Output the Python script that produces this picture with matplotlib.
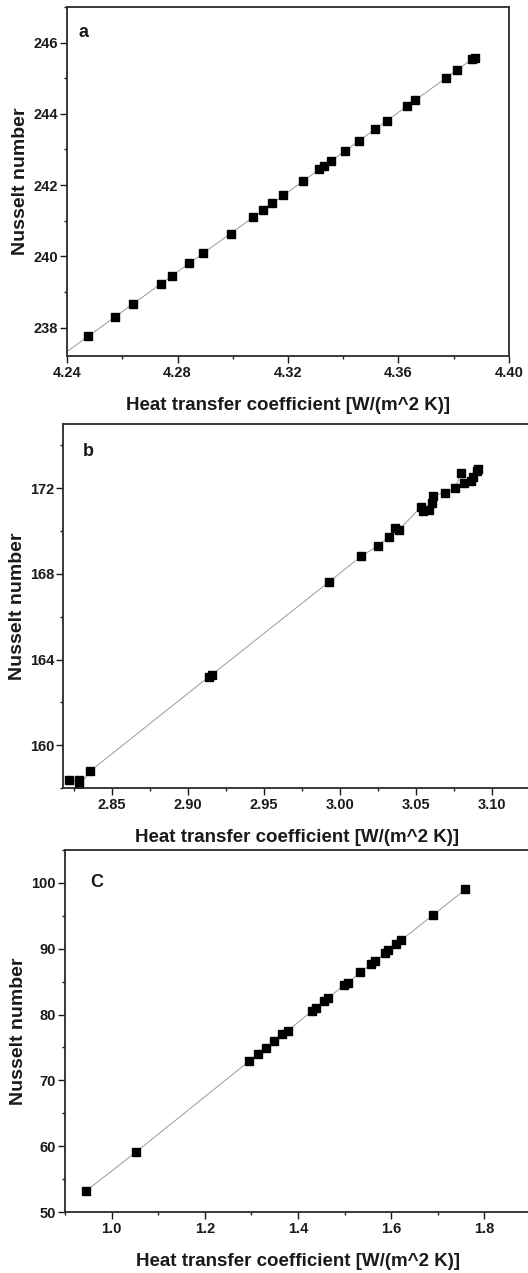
import numpy as np
import matplotlib
matplotlib.use("Agg")
import matplotlib.pyplot as plt
from matplotlib.ticker import MultipleLocator, FormatStrFormatter

plt.rcParams['font.family'] = ['Liberation Sans', 'DejaVu Sans']
plt.rcParams['font.weight'] = 'bold'

# ---- panel a ----
h_a = [4.2475, 4.2574, 4.2639, 4.2739, 4.2780, 4.2843, 4.2893, 4.2993, 4.3073,
       4.3108, 4.3143, 4.3183, 4.3255, 4.3312, 4.3330, 4.3357, 4.3406, 4.3458,
       4.3515, 4.3558, 4.3631, 4.3661, 4.3773, 4.3811, 4.3866, 4.3876]
nu_a = [237.75, 238.29, 238.66, 239.22, 239.45, 239.82, 240.08, 240.64, 241.10,
        241.30, 241.50, 241.71, 242.11, 242.44, 242.53, 242.68, 242.95, 243.25,
        243.57, 243.81, 244.22, 244.39, 245.01, 245.22, 245.54, 245.58]

# ---- panel b ----
h_b = [2.8220, 2.8280, 2.8280, 2.8355, 2.9136, 2.9158, 2.9925, 3.0140, 3.0250,
       3.0324, 3.0358, 3.0385, 3.0530, 3.0545, 3.0583, 3.0605, 3.0610, 3.0689,
       3.0755, 3.0794, 3.0816, 3.0860, 3.0873, 3.0899, 3.0908]
nu_b = [158.35, 158.35, 158.05, 158.78, 163.19, 163.30, 167.62, 168.83, 169.32,
        169.74, 170.13, 170.04, 171.12, 170.92, 170.99, 171.30, 171.65, 171.80,
        172.00, 172.70, 172.23, 172.36, 172.54, 172.79, 172.89]

# ---- panel c ----
h_c = [0.9449, 1.0522, 1.2955, 1.3140, 1.3320, 1.3490, 1.3660, 1.3777, 1.4307,
       1.4393, 1.4549, 1.4642, 1.4993, 1.5064, 1.5336, 1.5565, 1.5644, 1.5858,
       1.5937, 1.6110, 1.6217, 1.6895, 1.7590]
nu_c = [53.19, 59.10, 72.95, 73.96, 74.97, 75.99, 77.00, 77.50, 80.58,
        81.04, 82.00, 82.46, 84.53, 84.83, 86.40, 87.67, 88.07, 89.29,
        89.74, 90.70, 91.31, 95.10, 99.00]

XLABEL = "Heat transfer coefficient [W/(m^2 K)]"
YLABEL = "Nusselt number"
INK = '#1a1a1a'


def style_axes(ax, xmaj, xmin, ymaj, ymin, xfmt):
    ax.xaxis.set_major_locator(MultipleLocator(xmaj))
    ax.xaxis.set_minor_locator(MultipleLocator(xmin))
    ax.yaxis.set_major_locator(MultipleLocator(ymaj))
    ax.yaxis.set_minor_locator(MultipleLocator(ymin))
    ax.xaxis.set_major_formatter(FormatStrFormatter(xfmt))
    ax.tick_params(which='major', direction='out', length=5, width=1.0,
                   labelsize=10.5, color=INK, labelcolor=INK)
    ax.tick_params(axis='x', which='major', pad=2.5)
    ax.tick_params(axis='y', which='major', pad=1.5)
    ax.tick_params(which='minor', direction='out', length=2.5, width=1.0, color=INK)
    for lab in ax.get_xticklabels() + ax.get_yticklabels():
        lab.set_fontweight('bold')
    for sp in ax.spines.values():
        sp.set_linewidth(1.3)
        sp.set_color('#2a2a2a')
    ax.set_xlabel(XLABEL, fontsize=13.5, fontweight='bold', labelpad=12, color=INK)
    ax.set_ylabel(YLABEL, fontsize=14, fontweight='bold', labelpad=3, color=INK)


fig = plt.figure(figsize=(5.28, 12.73), dpi=100)

# panel a
ax1 = fig.add_axes([0.1269, 0.7203, 0.8371, 0.2742])
ax1.set_xlim(4.24, 4.40)
ax1.set_ylim(237.2, 247)
coef = np.polyfit(h_a, nu_a, 1)
xfit = np.array([4.24, max(h_a)])
ax1.plot(xfit, np.polyval(coef, xfit), color='#9a9a9a', lw=0.7, zorder=1)
ax1.plot(h_a, nu_a, 's', color='black', ms=5.3, zorder=2)
ax1.text(0.038, 0.928, 'a', transform=ax1.transAxes, fontsize=13,
         fontweight='bold', ha='center', va='center', color=INK)
style_axes(ax1, 0.04, 0.02, 2, 1, '%.2f')

# panel b
ax2 = fig.add_axes([0.1199, 0.3810, 0.8845, 0.2859])
ax2.set_xlim(2.818, 3.125)
ax2.set_ylim(158, 175)
order = np.argsort(h_b, kind='stable')
ax2.plot(np.array(h_b)[order], np.array(nu_b)[order], color='#9a9a9a', lw=0.7, zorder=1)
ax2.plot(h_b, nu_b, 's', color='black', ms=5.3, zorder=2)
ax2.text(0.053, 0.924, 'b', transform=ax2.transAxes, fontsize=13,
         fontweight='bold', ha='center', va='center', color=INK)
style_axes(ax2, 0.05, 0.025, 4, 2, '%.2f')

# panel c
ax3 = fig.add_axes([0.1231, 0.0479, 0.8826, 0.2844])
ax3.set_xlim(0.9, 1.9)
ax3.set_ylim(50, 105)
ax3.plot(h_c, nu_c, color='#9a9a9a', lw=0.7, zorder=1)
ax3.plot(h_c, nu_c, 's', color='black', ms=5.3, zorder=2)
ax3.text(0.068, 0.91, 'C', transform=ax3.transAxes, fontsize=13,
         fontweight='bold', ha='center', va='center', color=INK)
style_axes(ax3, 0.2, 0.1, 10, 5, '%.1f')

fig.savefig('out.png', dpi=100)
